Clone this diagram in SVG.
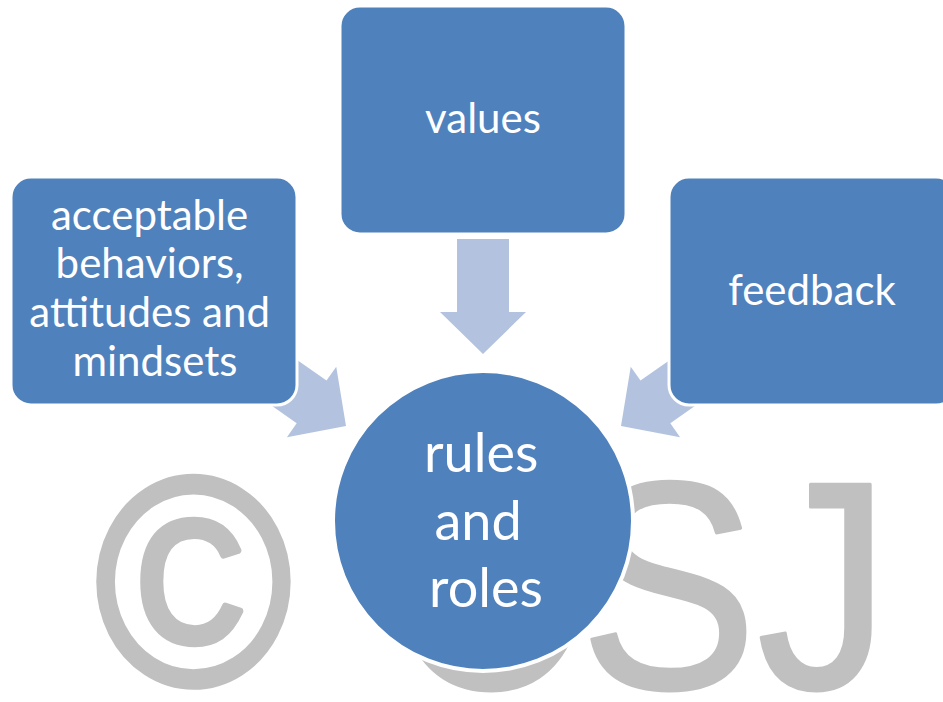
<svg xmlns="http://www.w3.org/2000/svg" width="943" height="702" viewBox="0 0 943 702">
  <defs>
    <style>
      .box { fill: #4F81BD; stroke: #FFFFFF; stroke-width: 3; }
      .hub { fill: #4F81BD; stroke: #FFFFFF; stroke-width: 4; }
      .arrow { fill: #B3C3DF; }
      .label { font-family: Lato, "Liberation Sans", sans-serif; fill: #FFFFFF; text-anchor: middle; }
      .small { font-size: 42px; }
      .big { font-size: 54px; }
      .mark { font-family: "Liberation Sans", Arial, sans-serif; font-size: 296px; fill: #C0C0C0; stroke: #C0C0C0; stroke-width: 3; stroke-linejoin: round; }
      .mark-ring { stroke-width: 7; }
    </style>
    <!-- block arrow pointing along +x, tip at the origin -->
    <path id="blockArrow" d="M0,0 L-42,-43 L-42,-26 L-115,-26 L-115,26 L-42,26 L-42,43 Z"/>
  </defs>

  <rect width="943" height="702" fill="#FFFFFF"/>

  <!-- copyright watermark -->
  <g id="watermark" transform="scale(0.9,1)">
    <text class="mark mark-ring" x="106" y="684">©</text>
    <text class="mark" x="432 644 841" y="688">CSJ</text>
  </g>

  <!-- connectors -->
  <g id="connectors">
    <use href="#blockArrow" class="arrow" transform="translate(483,354) rotate(90)"/>
    <use href="#blockArrow" class="arrow" transform="translate(346,426) rotate(35)"/>
    <use href="#blockArrow" class="arrow" transform="translate(621,426) rotate(145)"/>
  </g>

  <g id="node-values">
    <rect class="box" x="340" y="6" width="286" height="228" rx="20"/>
    <text class="label small" x="483" y="133">values</text>
  </g>

  <g id="node-behaviors">
    <rect class="box" x="11" y="177" width="286" height="228" rx="20"/>
    <text class="label small" x="155">
      <tspan x="155" y="230">acceptable</tspan>
      <tspan x="155" y="278">behaviors,</tspan>
      <tspan x="155" y="327">attitudes and</tspan>
      <tspan x="155" y="376">mindsets</tspan>
    </text>
  </g>

  <g id="node-feedback">
    <rect class="box" x="669" y="177" width="287" height="228" rx="20"/>
    <text class="label small" x="812" y="305">feedback</text>
  </g>

  <g id="node-rules">
    <circle class="hub" cx="483" cy="521" r="150"/>
    <text class="label big" x="486">
      <tspan x="488" y="472">rules</tspan>
      <tspan x="485" y="540">and</tspan>
      <tspan x="486" y="607">roles</tspan>
    </text>
  </g>
</svg>
